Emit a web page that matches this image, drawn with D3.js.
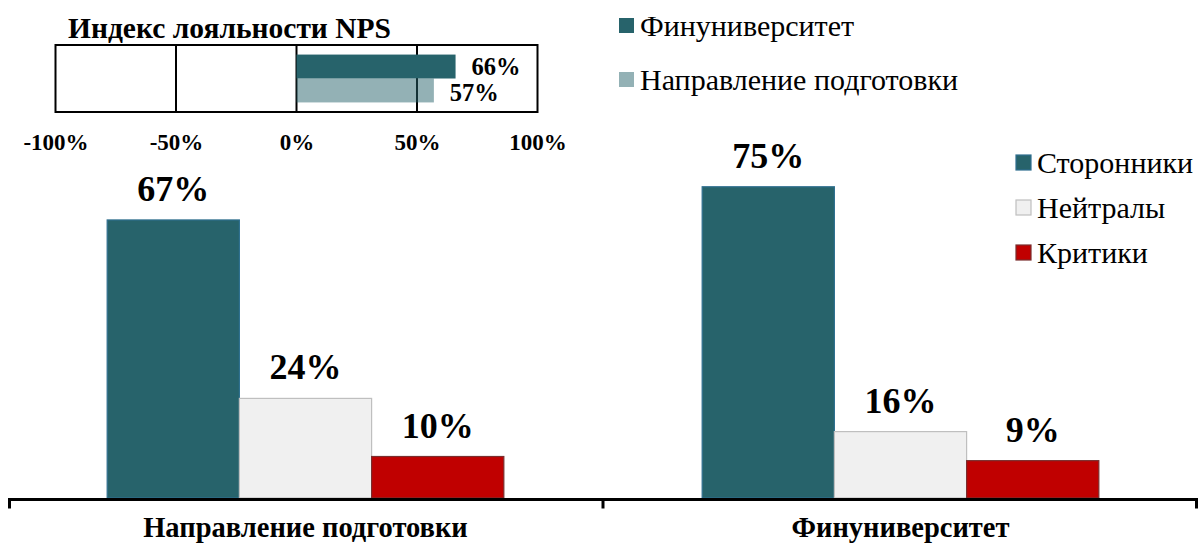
<!DOCTYPE html>
<html>
<head>
<meta charset="utf-8">
<script src="https://cdn.jsdelivr.net/npm/d3@7"></script>
<style>
  html, body { margin: 0; padding: 0; background: #fff; }
  svg { display: block; }
  text { font-family: "Liberation Serif", "Times New Roman", serif; fill: #000; }
</style>
</head>
<body>
<svg id="chart" width="1198" height="546"></svg>
<script>
// ---- Data ----
const categories = ["Направление подготовки", "Финуниверситет"];
const groups = ["Сторонники", "Нейтралы", "Критики"];
const promoters = [67, 75];
const neutrals = [24, 16];
const critics = [10, 9];

const npsSeries = ["Финуниверситет", "Направление подготовки"];
const npsValues = [66, 57];
const npsTicks = [-100, -50, 0, 50, 100];
const npsTitle = "Индекс лояльности NPS";

// ---- Styles ----
const groupFill = { "Сторонники": "#27636B", "Нейтралы": "#F0F0F0", "Критики": "#C00000" };
const groupStroke = { "Сторонники": "#2F6F8F", "Нейтралы": "#BFBFBF", "Критики": "#7A2E2E" };
const npsFill = { "Финуниверситет": "#27636B", "Направление подготовки": "#27636B" };
const npsOpacity = { "Финуниверситет": 1, "Направление подготовки": 0.5 };
const FONT = '"Liberation Serif", "Times New Roman", serif';

const svg = d3.select("#chart");

// ---- Main grouped bar chart ----
const x0 = d3.scaleBand().domain(categories).range([8, 1198]).paddingInner(0).paddingOuter(0);
const x1 = d3.scaleBand().domain(groups).range([0, x0.bandwidth()]).paddingInner(0).paddingOuter(0.75);
const y = d3.scaleLinear().domain([0, 100]).range([498, 83]);

const rows = categories.map((c, i) => ({
  cat: c,
  vals: [
    { g: groups[0], v: promoters[i] },
    { g: groups[1], v: neutrals[i] },
    { g: groups[2], v: critics[i] }
  ]
}));

const gMain = svg.append("g");
const cat = gMain.selectAll("g.cat").data(rows).join("g")
  .attr("class", "cat")
  .attr("transform", d => `translate(${x0(d.cat)},0)`);

cat.selectAll("rect").data(d => d.vals).join("rect")
  .attr("x", d => x1(d.g))
  .attr("y", d => y(d.v))
  .attr("width", x1.bandwidth())
  .attr("height", d => y(0) - y(d.v))
  .attr("fill", d => groupFill[d.g])
  .attr("stroke", d => groupStroke[d.g])
  .attr("stroke-width", 1.2);

cat.selectAll("text.lbl").data(d => d.vals).join("text")
  .attr("class", "lbl")
  .attr("x", d => x1(d.g) + x1.bandwidth() / 2)
  .attr("y", d => y(d.v) - 19)
  .attr("text-anchor", "middle")
  .style("font-family", FONT)
  .attr("font-size", 36)
  .attr("font-weight", "bold")
  .text(d => d.v + "%");

// category axis
const axG = gMain.append("g").attr("transform", "translate(0,499.5)");
axG.append("line").attr("x1", 8).attr("x2", 1198).attr("y1", 0).attr("y2", 0)
  .attr("stroke", "#000").attr("stroke-width", 3);
const boundaries = [x0.range()[0] + 1.5, x0(categories[1]), x0.range()[1] - 1.5];
axG.selectAll("line.sep").data(boundaries).join("line")
  .attr("class", "sep")
  .attr("x1", d => d).attr("x2", d => d)
  .attr("y1", 0).attr("y2", 9)
  .attr("stroke", "#000").attr("stroke-width", 3);
gMain.selectAll("text.catl").data(categories).join("text")
  .attr("class", "catl")
  .attr("x", d => x0(d) + x0.bandwidth() / 2)
  .attr("y", 537)
  .attr("text-anchor", "middle")
  .style("font-family", FONT)
  .attr("font-size", 28.5)
  .attr("font-weight", "bold")
  .text(d => d);

// main legend
const lg = svg.append("g");
const legY = d3.scalePoint().domain(groups).range([163, 253]);
lg.selectAll("rect").data(groups).join("rect")
  .attr("x", 1016).attr("y", d => legY(d) - 8)
  .attr("width", 15).attr("height", 15)
  .attr("fill", d => groupFill[d])
  .attr("stroke", d => groupStroke[d]).attr("stroke-width", 1.2);
lg.selectAll("text").data(groups).join("text")
  .attr("x", 1037).attr("y", d => legY(d) + 10)
  .style("font-family", FONT)
  .attr("font-size", 30)
  .text(d => d);

// ---- NPS inset ----
const nx = d3.scaleLinear().domain([-100, 100]).range([55.5, 537.5]);
const ny = d3.scaleBand().domain(npsSeries).range([45, 112]).paddingInner(0).paddingOuter(0.4);
const gN = svg.append("g");

gN.append("text").attr("x", 68).attr("y", 38)
  .style("font-family", FONT)
  .attr("font-size", 29.5).attr("font-weight", "bold").text(npsTitle);

const gridG = gN.append("g");
gridG.selectAll("line").data(npsTicks.filter(t => t !== -100 && t !== 100)).join("line")
  .attr("x1", d => nx(d)).attr("x2", d => nx(d))
  .attr("y1", 45).attr("y2", 112)
  .attr("stroke", "#000").attr("stroke-width", 2);

gN.selectAll("rect.nps").data(npsSeries).join("rect")
  .attr("class", "nps")
  .attr("x", nx(0))
  .attr("y", d => ny(d))
  .attr("width", (d, i) => nx(npsValues[i]) - nx(0))
  .attr("height", ny.bandwidth())
  .attr("fill", d => npsFill[d])
  .attr("fill-opacity", d => npsOpacity[d]);

gN.append("rect")
  .attr("x", nx(-100)).attr("y", 45)
  .attr("width", nx(100) - nx(-100)).attr("height", 67)
  .attr("fill", "none").attr("stroke", "#000").attr("stroke-width", 2);

gN.selectAll("text.nv").data(npsSeries).join("text")
  .attr("class", "nv")
  .attr("x", (d, i) => nx(npsValues[i]) + 16)
  .attr("y", (d, i) => ny(d) + ny.bandwidth() / 2 + (i === 0 ? 8 : 11))
  .style("font-family", FONT)
  .attr("font-size", 24.5).attr("font-weight", "bold")
  .text((d, i) => npsValues[i] + "%");

const nAxis = d3.axisBottom(nx).tickValues(npsTicks).tickSize(0).tickPadding(0)
  .tickFormat(d => d + "%");
const nAxG = gN.append("g").attr("transform", "translate(0,150)").call(nAxis);
nAxG.select(".domain").remove();
nAxG.attr("font-family", null);
nAxG.selectAll("text")
  .attr("dy", 0).attr("y", 0)
  .style("font-family", FONT)
  .attr("font-size", 23).attr("font-weight", "bold")
  .attr("fill", "#000");

// top legend
const tl = svg.append("g");
const tlY = d3.scalePoint().domain(npsSeries).range([25.5, 79.5]);
tl.selectAll("rect").data(npsSeries).join("rect")
  .attr("x", 619).attr("y", d => tlY(d) - 7.5)
  .attr("width", 15).attr("height", 15)
  .attr("fill", d => npsFill[d]).attr("fill-opacity", d => npsOpacity[d]);
tl.selectAll("text").data(npsSeries).join("text")
  .attr("x", 640).attr("y", d => tlY(d) + 10)
  .style("font-family", FONT)
  .attr("font-size", 30)
  .text(d => d);
</script>
</body>
</html>
